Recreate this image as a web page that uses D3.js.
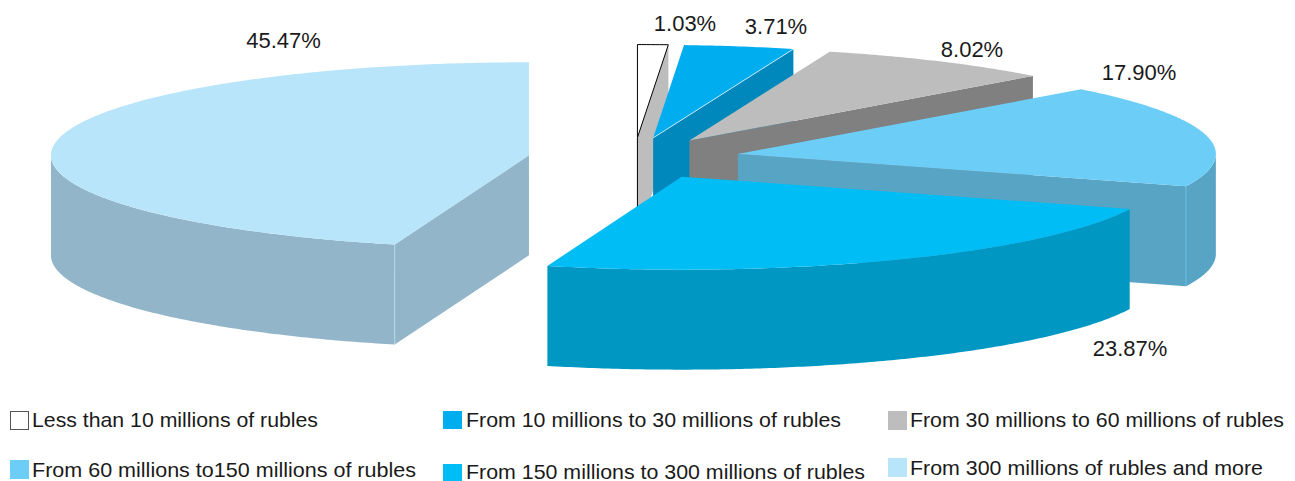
<!DOCTYPE html>
<html>
<head>
<meta charset="utf-8">
<script src="https://d3js.org/d3.v7.min.js"></script>
<style>
html,body{margin:0;padding:0;background:#fff;overflow:hidden}
text{font-family:"Liberation Sans",Arial,sans-serif;fill:#1a1a1a}
</style>
</head>
<body>
<svg id="chart" width="1295" height="481"></svg>
<script>
const categories = [
  "Less than 10 millions of rubles",
  "From 10 millions to 30 millions of rubles",
  "From 30 millions to 60 millions of rubles",
  "From 60 millions to150 millions of rubles",
  "From 150 millions to 300 millions of rubles",
  "From 300 millions of rubles and more"
];
const shares = [1.03, 3.71, 8.02, 17.90, 23.87, 45.47];
const shareLabels = ["1.03%", "3.71%", "8.02%", "17.90%", "23.87%", "45.47%"];
const topColors = ["#ffffff", "#00aeef", "#bdbdbd", "#6ccdf7", "#00bdf5", "#b9e5fb"];
const wallColors = ["#bdbdbd", "#0088bd", "#808080", "#58a4c5", "#0098c3", "#92b5c9"];

// Layout, separate from the data: swatch x, y, height; text x, baseline
const labelPos = [[685,31],[776,34],[972,57],[1139,80],[1130,356],[283.5,48]];
const legendPos = [[10,411,18,32,427],[443,411,18,466,427],[888,411,19,910,427],[10,460,19,32,477],[443,464,17,466,479],[888,458,19,910,475]];
const legendWidths = [286,375,374,384,399,353];

const depth = 100, explode = 0.222;
const rx = 478, ry = 93, cx = 634, cy = 158.2;
const x = d3.scaleLinear().domain([-1,1]).range([cx-rx,cx+rx]);
const y = d3.scaleLinear().domain([-1,1]).range([cy+ry,cy-ry]);

const svg = d3.select("#chart");
const arcs = d3.pie().sort(null).value(d=>d).startAngle(0).endAngle(2*Math.PI)(shares);
const line = d3.line().x(d=>d[0]).y(d=>d[1]);

const slices = arcs.map((a,i)=>{
  const mid = (a.startAngle+a.endAngle)/2;
  return {i, a0:a.startAngle, a1:a.endAngle, ox:explode*Math.sin(mid), oy:explode*Math.cos(mid)};
}).sort((p,q)=>q.oy-p.oy);

const pt = (s,ang,r=1)=>[x(s.ox+r*Math.sin(ang)), y(s.oy+r*Math.cos(ang))];
const rim = (s,from,to,dz=0)=>{
  const n = Math.max(2,Math.ceil(Math.abs(to-from)/0.01));
  return d3.range(n+1).map(k=>{
    const p = pt(s,from+(to-from)*k/n);
    return [p[0],p[1]+dz];
  });
};

slices.forEach(s=>{
  const g = svg.append("g");
  const wall = wallColors[s.i], top = topColors[s.i];
  const c = pt(s,0,0);
  const cb = [c[0],c[1]+depth];
  const radial = ang=>{
    const o = pt(s,ang);
    g.append("path").attr("d",line([c,o,[o[0],o[1]+depth],cb])+"Z").attr("fill",wall);
  };
  const startVisible = Math.sin(s.a0) < -1e-6, endVisible = Math.sin(s.a1) > 1e-6;
  if(startVisible) radial(s.a0);
  if(endVisible) radial(s.a1);
  // outer wall: visible on the front half of the ellipse
  const lo = Math.max(s.a0,Math.PI/2), hi = Math.min(s.a1,3*Math.PI/2);
  if(hi>lo){
    g.append("path").attr("d",line(rim(s,lo,hi).concat(rim(s,hi,lo,depth)))+"Z").attr("fill",wall);
    const seam = startVisible ? s.a0 : endVisible ? s.a1 : null;
    if(seam!==null){
      const o = pt(s,seam);
      g.append("line").attr("x1",o[0]).attr("y1",o[1]).attr("x2",o[0]).attr("y2",o[1]+depth)
        .attr("stroke",top).attr("stroke-width",0.8).attr("stroke-opacity",0.8);
    }
  }
  // top face
  g.append("path").attr("d",line([c].concat(rim(s,s.a0,s.a1)))+"Z").attr("fill",top);
  if(s.i===0){
    // the first slice is white, so it and its wall are outlined
    g.append("path").attr("d",line([c].concat(rim(s,s.a0,s.a1)))+"Z")
      .attr("fill","none").attr("stroke","#000").attr("stroke-width",1);
    g.append("line").attr("x1",c[0]).attr("y1",c[1]).attr("x2",c[0]).attr("y2",c[1]+depth)
      .attr("stroke","#000").attr("stroke-width",1);
  }
  if(s.i===1){
    const o = pt(s,s.a1);
    g.append("line").attr("x1",c[0]).attr("y1",c[1]).attr("x2",o[0]).attr("y2",o[1])
      .attr("stroke","#fff").attr("stroke-width",0.7);
  }
});

svg.append("g").selectAll("text").data(shareLabels).join("text")
  .attr("x",(d,i)=>labelPos[i][0]).attr("y",(d,i)=>labelPos[i][1])
  .attr("text-anchor","middle").attr("font-size",22).text(d=>d);

const lg = svg.append("g").selectAll("g").data(categories).join("g");
lg.append("rect")
  .attr("x",(d,i)=>legendPos[i][0]+(i===0?0.5:0)).attr("y",(d,i)=>legendPos[i][1]+(i===0?0.5:0))
  .attr("width",(d,i)=>i===0?18:19).attr("height",(d,i)=>legendPos[i][2])
  .attr("fill",(d,i)=>topColors[i])
  .attr("stroke",(d,i)=>i===0?"#555":"none");
lg.append("text")
  .attr("x",(d,i)=>legendPos[i][3]).attr("y",(d,i)=>legendPos[i][4])
  .attr("font-size",21)
  .attr("textLength",(d,i)=>legendWidths[i]).attr("lengthAdjust","spacingAndGlyphs")
  .text(d=>d);
</script>
</body>
</html>
